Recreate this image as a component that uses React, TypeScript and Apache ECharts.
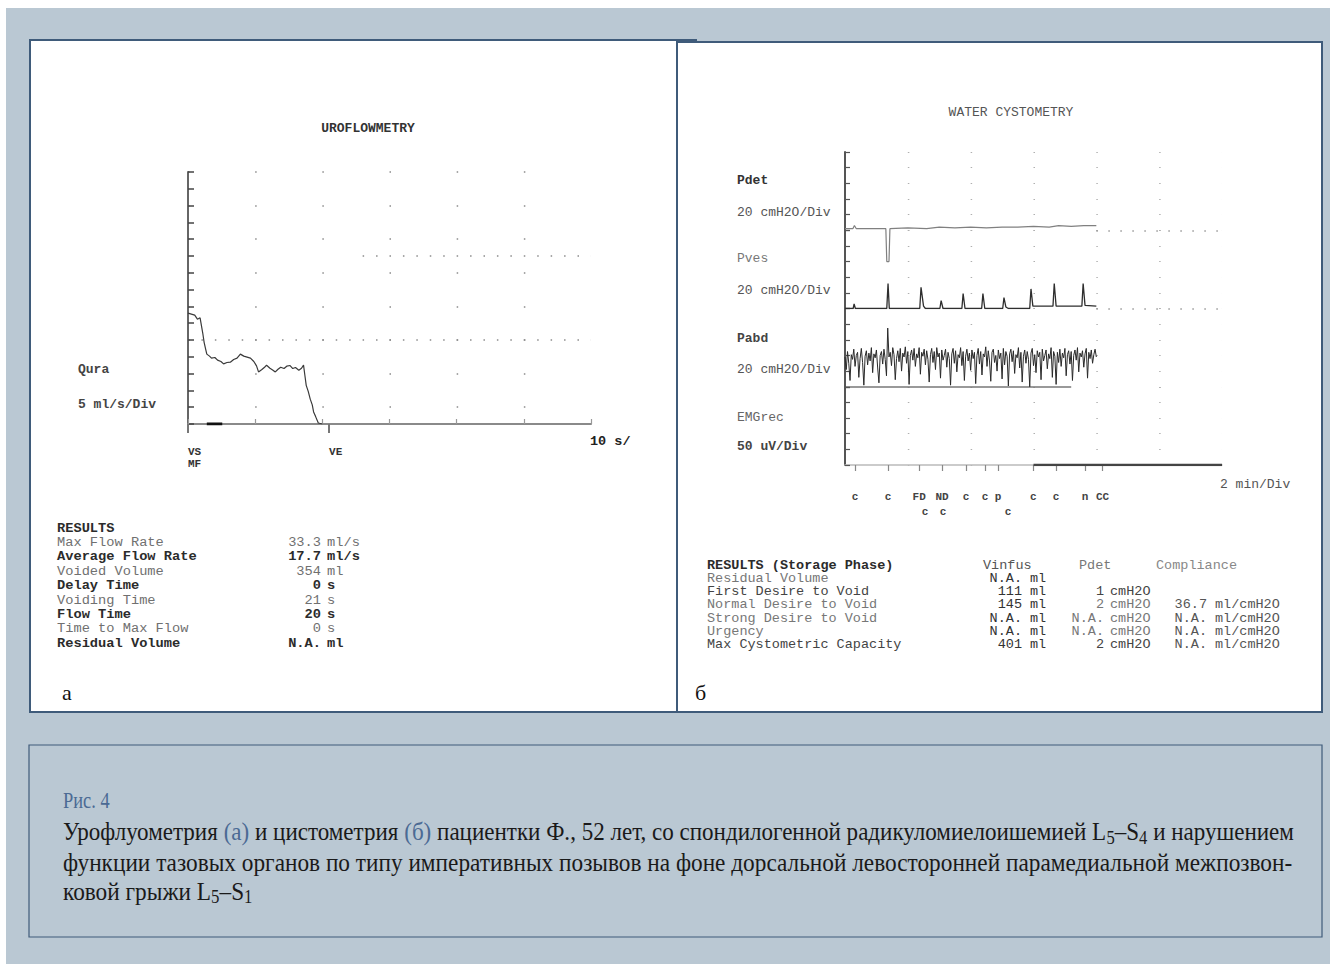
import React, { useEffect, useRef } from "react";
import * as echarts from "echarts";

// ---------- Uroflowmetry (a) ----------
const flowT = [0, 0.5, 1.0, 1.4, 1.8, 2.0, 2.2, 2.4, 2.6, 2.8, 3.2, 3.5, 4.0, 4.4, 4.9, 5.3, 5.8, 6.3, 6.8, 7.3, 7.8, 8.3, 8.8, 9.3, 9.8, 10.2, 10.5, 11.0, 11.4, 11.7, 12.2, 12.6, 13.0, 13.4, 13.8, 14.3, 14.7, 15.2, 15.6, 16.0, 16.5, 16.9, 17.2, 17.4, 17.6, 17.9, 18.2, 18.5, 18.7, 19.0, 19.4, 20.0];
const flowV = [33, 32.7, 32.4, 31.2, 31.6, 29.3, 27.0, 24.3, 22.5, 20.8, 20.2, 19.6, 19.8, 19.0, 18.6, 17.9, 18.3, 18.4, 19.2, 19.6, 20.8, 20.2, 19.9, 19.6, 18.6, 17.3, 15.5, 16.2, 16.9, 17.5, 16.6, 16.1, 15.5, 16.3, 16.9, 16.5, 17.2, 17.4, 16.5, 16.8, 16.0, 16.6, 17.5, 14.5, 11.5, 9.7, 7.4, 5.7, 3.6, 2.2, 0.3, 0];
const flowBarT = [2.8, 5.1];
const flowBarV = [0, 0];
const flowDotRows = [5, 15, 25, 35, 45, 55, 65, 75];
const flowRefLow = 25;
const flowRefHigh = 50;
const flowRefHighFrom = 26;
const markerT = [0, 21];
const markerLabels = ["VS\nMF", "VE"];

// ---------- Cystometry (б) ----------
const pdetPts: [number, number][] = [
  [0, 2], [0.25, 2], [0.3, 6], [0.36, 2], [1.3, 2], [1.33, -40], [1.4, -40], [1.43, 2], [2.0, 3], [2.6, 2], [3.0, 4], [3.5, 3], [4.0, 4], [4.5, 3], [5.0, 4], [5.5, 4], [6.0, 5], [6.5, 4], [6.8, 6], [7.2, 5], [7.6, 6], [8.0, 6],
];
const pvesPts: [number, number][] = [
  [0, 0], [0.26, 0], [0.29, 6], [0.33, 0], [1.33, 0], [1.37, 32], [1.41, 0], [2.38, 0], [2.42, 27], [2.5, 3], [2.56, 0], [3.02, 0], [3.06, 10], [3.12, 0], [3.72, 0], [3.76, 19], [3.82, 0], [4.35, 0], [4.39, 19], [4.45, 0], [5.02, 0], [5.06, 14], [5.12, 2], [5.2, 0], [5.88, 0], [5.92, 25], [5.98, 3], [6.62, 3], [6.66, 32], [6.72, 3], [7.54, 3], [7.58, 32], [7.64, 4], [8.0, 3],
];
const pabdStep = 0.04;
const pabdVals = [
  38, 22, 45, 30, 8, 41, 35, 48, 26, 40,
  44, 12, 36, 49, 31, 2, 39, 46, 28, 43,
  33, 50, 18, 42, 37, 47, 24, 5, 40, 45,
  29, 48, 35, 14, 75, 38, 44, 27, 50, 41,
  9, 36, 46, 32, 49, 20, 43, 38, 51, 30,
  45, 3, 40, 47, 34, 49, 26, 42, 37, 50,
  16, 44, 39, 48, 28, 46, 35, 6, 41, 49,
  31, 45, 22, 50, 38, 43, 11, 47, 34, 40,
  48, 25, 44, 36, 2, 42, 49, 30, 46, 19,
  41, 37, 50, 27, 45, 8, 39, 48, 33, 43,
  21, 47, 36, 44, 4, 40, 49, 29, 45, 15,
  42, 38, 51, 26, 46, 33, 7, 44, 48, 31,
  40, 20, 47, 36, 43, 10, 49, 28, 45, 39,
  1, 42, 48, 32, 46, 17, 41, 37, 50, 24,
  44, 6, 39, 47, 30, 45, 35, 0, 43, 49,
  27, 41, 18, 46, 38, 44, 9, 48, 33, 40,
  47, 23, 42, 36, 50, 12, 45, 39, 3, 44,
  31, 48, 26, 43, 37, 49, 14, 41, 46, 29,
  45, 8, 40, 47, 34, 50, 19, 43, 38, 46,
  25, 42, 49, 11, 44, 36, 47, 30, 41, 48,
  38,
];
const pabdBaseEnd = 7.2;
const emgPts: [number, number][] = [[6, 0], [12, 0]];
const traceEnd = 8;
const cystMax = 12;
const eventT = [0.32, 1.37, 2.36, 3.09, 3.85, 4.46, 4.87, 5.99, 6.72, 7.64, 8.2];
const eventLabels = ["c", "c", "FD", "ND", "c", "c", "p", "c", "c", "n", "CC"];
const event2T = [2.55, 3.12, 5.19];
const event2Labels = ["c", "c", "c"];

// ---------- Texts ----------
const leftResults: [string, string, string, boolean][] = [
  ["RESULTS", "", "", true],
  ["Max Flow Rate", "33.3", "ml/s", false],
  ["Average Flow Rate", "17.7", "ml/s", true],
  ["Voided Volume", "354", "ml", false],
  ["Delay Time", "0", "s", true],
  ["Voiding Time", "21", "s", false],
  ["Flow Time", "20", "s", true],
  ["Time to Max Flow", "0", "s", false],
  ["Residual Volume", "N.A.", "ml", true],
];
const rightHeader = ["RESULTS (Storage Phase)", "Vinfus", "Pdet", "Compliance"];
const rightRows: [string, string, string, string, string, string, string][] = [
  ["Residual Volume", "N.A.", "ml", "", "", "", ""],
  ["First Desire to Void", "111", "ml", "1", "cmH2O", "", ""],
  ["Normal Desire to Void", "145", "ml", "2", "cmH2O", "36.7", "ml/cmH2O"],
  ["Strong Desire to Void", "N.A.", "ml", "N.A.", "cmH2O", "N.A.", "ml/cmH2O"],
  ["Urgency", "N.A.", "ml", "N.A.", "cmH2O", "N.A.", "ml/cmH2O"],
  ["Max Cystometric Capacity", "401", "ml", "2", "cmH2O", "N.A.", "ml/cmH2O"],
];
const captionTitle = "Рис. 4";
const captionLine1: [string, string][] = [
  ["Урофлуометрия ", ""], ["(а)", "b"], [" и цистометрия ", ""], ["(б)", "b"],
  [" пациентки Ф., 52 лет, со спондилогенной радикуломиелоишемией L", ""], ["5", "sub"], ["–S", ""], ["4", "sub"], [" и нарушением", ""],
];
const captionLine2: [string, string][] = [
  ["функции тазовых органов по типу императивных позывов на фоне дорсальной левосторонней парамедиальной межпозвон-", ""],
];
const captionLine3: [string, string][] = [["ковой грыжи L", ""], ["5", "sub"], ["–S", ""], ["1", "sub"]];

const MONO = '"Liberation Mono", "DejaVu Sans Mono", monospace';
const SERIF = '"Liberation Serif", "DejaVu Serif", serif';
const BORDER = "#3f5b7a";
const BG = "#bac8d3";
const BLUE = "#4b6a94";
const CAP_SIZE = 25;
const SUB_SIZE = 18;

let measureCtx: CanvasRenderingContext2D | null = null;
function measure(segs: [string, string][]) {
  if (!measureCtx) measureCtx = document.createElement("canvas").getContext("2d")!;
  let w = 0;
  for (const [s, k] of segs) {
    measureCtx.font = `${k === "sub" ? SUB_SIZE : CAP_SIZE}px ${SERIF}`;
    w += measureCtx.measureText(s).width;
  }
  return w;
}

function txt(text: string, x: number, y: number, o: any = {}) {
  return {
    type: "text",
    x,
    y,
    z: 10,
    scaleX: o.scaleX || 1,
    style: {
      text,
      fontFamily: o.family || MONO,
      fontSize: o.size || 13.5,
      fontWeight: o.bold ? "bold" : "normal",
      fill: o.fill || (o.bold ? "#2b2b2b" : "#707070"),
      align: o.align || "left",
      verticalAlign: "middle",
    },
  };
}

function buildOption() {
  const g: any[] = [];
  g.push({ type: "rect", z: -10, shape: { x: 6, y: 8, width: 1324, height: 956 }, style: { fill: BG } });
  g.push({ type: "rect", z: -9, shape: { x: 30, y: 40, width: 647, height: 672 }, style: { fill: "#fff", stroke: BORDER, lineWidth: 2 } });
  g.push({ type: "rect", z: -9, shape: { x: 677, y: 42, width: 645, height: 670 }, style: { fill: "#fff", stroke: BORDER, lineWidth: 2 } });
  g.push({ type: "line", z: -8, shape: { x1: 677, y1: 40, x2: 697, y2: 40 }, style: { stroke: BORDER, lineWidth: 2 } });
  g.push({ type: "rect", z: -9, shape: { x: 29, y: 745, width: 1293, height: 192 }, style: { fill: BG, stroke: BORDER, lineWidth: 1.2 } });

  // titles & channel labels
  g.push(txt("UROFLOWMETRY", 368, 128, { bold: true, size: 13, fill: "#333", align: "center" }));
  g.push(txt("WATER CYSTOMETRY", 1011, 112, { size: 13, fill: "#555", align: "center" }));
  g.push(txt("Qura", 78, 369, { bold: true, size: 13, fill: "#444" }));
  g.push(txt("5 ml/s/Div", 78, 404, { bold: true, size: 13, fill: "#444" }));
  g.push(txt("10 s/", 590, 441, { bold: true, size: 13.5, fill: "#222" }));
  g.push(txt("Pdet", 737, 180, { bold: true, size: 13, fill: "#333" }));
  g.push(txt("20 cmH2O/Div", 737, 212, { size: 13, fill: "#555" }));
  g.push(txt("Pves", 737, 258, { size: 13, fill: "#777" }));
  g.push(txt("20 cmH2O/Div", 737, 290, { size: 13, fill: "#555" }));
  g.push(txt("Pabd", 737, 338, { bold: true, size: 13, fill: "#444" }));
  g.push(txt("20 cmH2O/Div", 737, 369, { size: 13, fill: "#555" }));
  g.push(txt("EMGrec", 737, 417, { size: 13, fill: "#666" }));
  g.push(txt("50 uV/Div", 737, 446, { bold: true, size: 13, fill: "#444" }));
  g.push(txt("2 min/Div", 1220, 484, { size: 13, fill: "#555" }));

  // left results
  leftResults.forEach(([lab, val, unit, bold], i) => {
    const y = 528 + i * 14.4;
    const o = { bold, size: 13.7 };
    g.push(txt(lab, 57, y, o));
    if (val) g.push(txt(val, 321, y, { ...o, align: "right" }));
    if (unit) g.push(txt(unit, 327, y, o));
  });
  // right results
  g.push(txt(rightHeader[0], 707, 565, { bold: true, size: 13.5 }));
  g.push(txt(rightHeader[1], 983, 565, { size: 13.5, fill: "#555" }));
  g.push(txt(rightHeader[2], 1079, 565, { size: 13.5, fill: "#777" }));
  g.push(txt(rightHeader[3], 1156, 565, { size: 13.5, fill: "#888" }));
  rightRows.forEach((r, i) => {
    const y = 565 + (i + 1) * 13.3;
    const dark = i === 1 || i === 5;
    const o = { size: 13.5, fill: dark ? "#444" : "#777" };
    g.push(txt(r[0], 707, y, o));
    if (r[1]) g.push(txt(r[1], 1022, y, { ...o, fill: "#333", align: "right" }));
    if (r[2]) g.push(txt(r[2], 1030, y, { ...o, fill: "#333" }));
    if (r[3]) g.push(txt(r[3], 1104, y, { ...o, align: "right" }));
    if (r[4]) g.push(txt(r[4], 1110, y, o));
    if (r[5]) g.push(txt(r[5], 1207, y, { ...o, fill: "#555", align: "right" }));
    if (r[6]) g.push(txt(r[6], 1215, y, { ...o, fill: "#555" }));
  });

  // panel letters
  g.push(txt("а", 62, 692, { family: SERIF, size: 22, fill: "#111" }));
  g.push(txt("б", 695, 692, { family: SERIF, size: 22, fill: "#111" }));

  // caption (segments placed one after another, subscripts lowered)
  g.push(txt(captionTitle, 63, 800, { family: SERIF, size: 23, fill: BLUE, scaleX: 0.8 }));
  const s1 = 1231 / measure(captionLine1);
  const s2 = 1230 / measure(captionLine2);
  const lines: [[string, string][], number, number][] = [
    [captionLine1, 832, s1],
    [captionLine2, 862, s2],
    [captionLine3, 891, s2],
  ];
  lines.forEach(([segs, y, sc]) => {
    let cx = 63;
    segs.forEach((seg) => {
      const [s, k] = seg;
      const isSub = k === "sub";
      g.push(txt(s, cx, isSub ? y + 6 : y, {
        family: SERIF,
        size: isSub ? SUB_SIZE : CAP_SIZE,
        fill: k === "b" ? BLUE : "#1a1a1a",
        scaleX: sc,
      }));
      cx += measure([seg]) * sc;
    });
  });

  const hiddenX = (gi: number) => ({
    gridIndex: gi, type: "value", min: 0, max: cystMax, interval: 2, z: 5,
    axisLine: { show: false }, axisTick: { show: false }, axisLabel: { show: false }, splitLine: { show: false },
  });
  const chanY = (gi: number) => ({
    gridIndex: gi, type: "value", min: 0, max: 100, interval: 20, z: 5,
    axisLine: { show: true, lineStyle: { color: "#555", width: 2 } },
    axisTick: { show: true, inside: true, length: 5, lineStyle: { color: "#555", width: 1.2 } },
    axisLabel: { show: false },
    splitLine: { show: true, lineStyle: { color: "#b0b0b0", width: 1.2, type: [1.5, 61.33] } },
  });
  const chanTops = [152, 230.25, 308.5, 386.75];

  const findIdx = (arr: number[], v: number) => arr.findIndex((a) => Math.abs(a - v) < 1e-6);

  const option: any = {
    animation: false,
    graphic: { elements: g },
    grid: [
      { left: 188, top: 172, width: 403, height: 252 },
      ...chanTops.map((t) => ({ left: 845, top: t, width: 377, height: 78.25 })),
    ],
    xAxis: [
      {
        gridIndex: 0, type: "value", min: 0, max: 60, interval: 10, z: 5,
        axisLine: { show: true, lineStyle: { color: "#8a8a8a", width: 2 } },
        axisTick: { show: true, inside: true, length: 5, lineStyle: { color: "#999", width: 1.2 } },
        axisLabel: { show: false }, splitLine: { show: false },
      },
      {
        gridIndex: 0, type: "value", min: 0, max: 60, position: "bottom", z: 5,
        axisLine: { show: false },
        axisTick: { show: true, customValues: markerT, length: 9, lineStyle: { color: "#777", width: 2 } },
        axisLabel: {
          show: true, customValues: markerT, margin: 22, align: "left",
          fontFamily: MONO, fontWeight: "bold", fontSize: 11, color: "#333", lineHeight: 12,
          formatter: (v: number) => markerLabels[findIdx(markerT, v)] ?? "",
        },
        splitLine: { show: false },
      },
      hiddenX(1), hiddenX(2), hiddenX(3),
      {
        gridIndex: 4, type: "value", min: 0, max: cystMax, interval: 2, z: 5,
        axisLine: { show: true, lineStyle: { color: "#bbb", width: 1.5 } },
        axisTick: { show: true, customValues: eventT, length: 6, lineStyle: { color: "#888", width: 1.2 } },
        axisLabel: {
          show: true, customValues: eventT, margin: 26,
          fontFamily: MONO, fontWeight: "bold", fontSize: 11, color: "#444",
          formatter: (v: number) => eventLabels[findIdx(eventT, v)] ?? "",
        },
        splitLine: { show: false },
      },
      {
        gridIndex: 4, type: "value", min: 0, max: cystMax, position: "bottom", z: 5,
        axisLine: { show: false }, axisTick: { show: false },
        axisLabel: {
          show: true, customValues: event2T, margin: 41,
          fontFamily: MONO, fontWeight: "bold", fontSize: 11, color: "#444",
          formatter: (v: number) => event2Labels[findIdx(event2T, v)] ?? "",
        },
        splitLine: { show: false },
      },
    ],
    yAxis: [
      {
        gridIndex: 0, type: "value", min: 0, max: 75, interval: 5, z: 5,
        axisLine: { show: true, lineStyle: { color: "#666", width: 2 } },
        axisTick: { show: true, inside: true, length: 6, lineStyle: { color: "#444", width: 1.5 } },
        axisLabel: { show: false }, splitLine: { show: false },
      },
      chanY(1), chanY(2), chanY(3), chanY(4),
    ],
    series: [
      {
        type: "line", xAxisIndex: 0, yAxisIndex: 0, z: 6, symbol: "none",
        data: flowT.map((t, i) => [t, flowV[i]]),
        lineStyle: { color: "#3a3a3a", width: 1.2 },
        markLine: {
          silent: true, symbol: "none", label: { show: false },
          data: [
            ...flowDotRows.map((v) => ({ yAxis: v, lineStyle: { color: "#8c8c8c", width: 1.5, type: [1.5, 65.67] } })),
            { yAxis: flowRefLow, lineStyle: { color: "#8c8c8c", width: 1.5, type: [1.5, 11.93] } },
            [
              { coord: [flowRefHighFrom, flowRefHigh], lineStyle: { color: "#8c8c8c", width: 1.5, type: [1.5, 11.93] } },
              { coord: [60, flowRefHigh] },
            ],
          ],
        },
      },
      {
        type: "line", xAxisIndex: 0, yAxisIndex: 0, z: 7, symbol: "none",
        data: flowBarT.map((t, i) => [t, flowBarV[i]]),
        lineStyle: { color: "#111", width: 3 },
      },
      {
        type: "line", xAxisIndex: 2, yAxisIndex: 1, z: 6, symbol: "none", clip: false,
        data: pdetPts, lineStyle: { color: "#808080", width: 1.2 },
        markLine: {
          silent: true, symbol: "none", label: { show: false },
          data: [[{ coord: [traceEnd, 0], lineStyle: { color: "#999", width: 1.5, type: [1.5, 10.5] } }, { coord: [cystMax, 0] }]],
        },
      },
      {
        type: "line", xAxisIndex: 3, yAxisIndex: 2, z: 6, symbol: "none",
        data: pvesPts, lineStyle: { color: "#2e2e2e", width: 1.3 },
        markLine: {
          silent: true, symbol: "none", label: { show: false },
          data: [[{ coord: [traceEnd, 0], lineStyle: { color: "#999", width: 1.5, type: [1.5, 10.5] } }, { coord: [cystMax, 0] }]],
        },
      },
      {
        type: "line", xAxisIndex: 4, yAxisIndex: 3, z: 6, symbol: "none", clip: false,
        data: pabdVals.map((v, i) => [i * pabdStep, v]),
        lineStyle: { color: "#2a2a2a", width: 1.0 },
        markLine: {
          silent: true, symbol: "none", label: { show: false },
          data: [[{ coord: [0, 0], lineStyle: { color: "#777", width: 1.5, type: "solid" } }, { coord: [pabdBaseEnd, 0] }]],
        },
      },
      {
        type: "line", xAxisIndex: 5, yAxisIndex: 4, z: 6, symbol: "none",
        data: emgPts, lineStyle: { color: "#444", width: 2.5 },
      },
    ],
  };
  return option;
}

export default function App() {
  const ref = useRef<HTMLDivElement>(null);
  useEffect(() => {
    const chart = echarts.init(ref.current!, null, { renderer: "svg" });
    chart.setOption(buildOption());
    return () => chart.dispose();
  }, []);
  return <div ref={ref} style={{ position: "absolute", left: 0, top: 0, width: 1330, height: 964 }} />;
}
